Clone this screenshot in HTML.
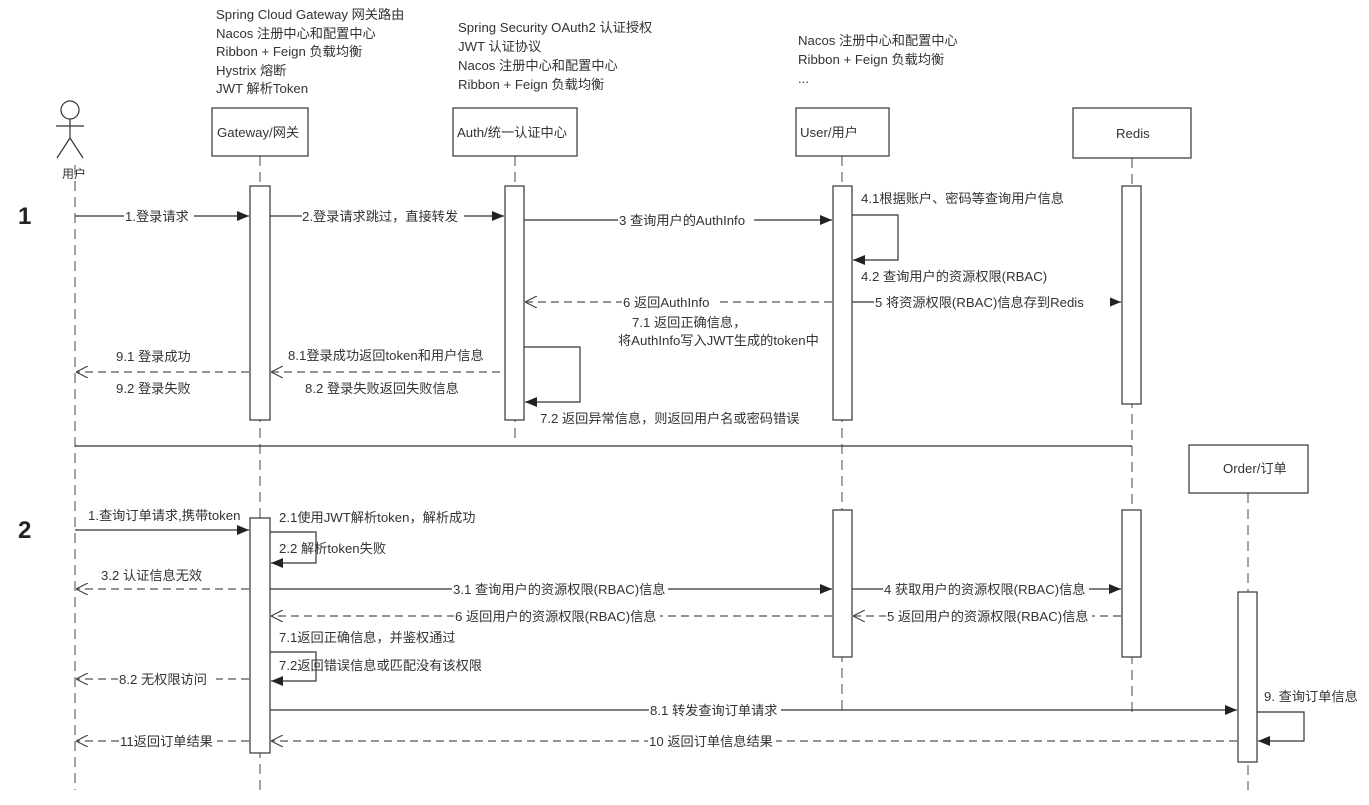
<!DOCTYPE html>
<html><head><meta charset="utf-8"><style>
body{margin:0;background:#fff}
svg{display:block}
text{font-family:"Liberation Sans","Noto Sans CJK SC",sans-serif;font-size:13.2px;fill:#333}
.l{stroke:#333;stroke-width:1.2;fill:none}
.d{stroke:#555;stroke-width:1.2;fill:none;stroke-dasharray:8 5}
.ll{stroke:#666;stroke-width:1.2;stroke-dasharray:10 6;fill:none}
.b{fill:#fff;stroke:#333;stroke-width:1.2}
.bg{fill:#fff}
</style></head><body>
<svg width="1369" height="805" viewBox="0 0 1369 805" xmlns="http://www.w3.org/2000/svg">
<defs>
<marker id="f" markerWidth="12" markerHeight="10" refX="12" refY="5" orient="auto" markerUnits="userSpaceOnUse"><path d="M0,0 L12,5 L0,10z" fill="#222"/></marker>
<marker id="o" markerWidth="12" markerHeight="12" refX="12" refY="6" orient="auto" markerUnits="userSpaceOnUse"><path d="M0,0 L12,6 L0,12" fill="none" stroke="#444" stroke-width="1.2"/></marker>
</defs>
<path class="ll" d="M75 165V790M260 156V795M515 156V442M842 156V712M1132 158V712M1248 493V790"/>
<text x="216" y="19">Spring Cloud Gateway 网关路由</text>
<text x="216" y="38">Nacos 注册中心和配置中心</text>
<text x="216" y="56">Ribbon + Feign 负载均衡</text>
<text x="216" y="75">Hystrix 熔断</text>
<text x="216" y="93">JWT 解析Token</text>
<text x="458" y="32">Spring Security OAuth2 认证授权</text>
<text x="458" y="51">JWT 认证协议</text>
<text x="458" y="70">Nacos 注册中心和配置中心</text>
<text x="458" y="89">Ribbon + Feign 负载均衡</text>
<text x="798" y="45">Nacos 注册中心和配置中心</text>
<text x="798" y="64">Ribbon + Feign 负载均衡</text>
<text x="798" y="83">...</text>
<circle cx="70" cy="110" r="9" class="l"/>
<path class="l" d="M70 119V138M56 126H84M70 138L57 158M70 138L83 158"/>
<text x="62" y="178" style="font-size:12px">用户</text>
<rect class="b" x="212" y="108" width="96" height="48"/><text x="217" y="137">Gateway/网关</text>
<rect class="b" x="453" y="108" width="124" height="48"/><text x="457" y="137">Auth/统一认证中心</text>
<rect class="b" x="796" y="108" width="93" height="48"/><text x="800" y="137">User/用户</text>
<rect class="b" x="1073" y="108" width="118" height="50"/><text x="1116" y="138">Redis</text>
<rect class="b" x="1189" y="445" width="119" height="48"/><text x="1223" y="473">Order/订单</text>
<rect class="b" x="250" y="186" width="20" height="234"/>
<rect class="b" x="505" y="186" width="19" height="234"/>
<rect class="b" x="833" y="186" width="19" height="234"/>
<rect class="b" x="1122" y="186" width="19" height="218"/>
<rect class="b" x="250" y="518" width="20" height="235"/>
<rect class="b" x="833" y="510" width="19" height="147"/>
<rect class="b" x="1122" y="510" width="19" height="147"/>
<rect class="b" x="1238" y="592" width="19" height="170"/>
<path class="l" d="M75 446H1132" stroke="#444"/>
<text x="18" y="224" style="font-size:24px;font-weight:bold;fill:#222">1</text>
<text x="18" y="538" style="font-size:24px;font-weight:bold;fill:#222">2</text>
<path class="l" d="M75 216H249" marker-end="url(#f)"/><rect class="bg" x="124" y="208" width="70" height="14"/><text x="125" y="221">1.登录请求</text>
<path class="l" d="M270 216H504" marker-end="url(#f)"/><rect class="bg" x="302" y="208" width="162" height="14"/><text x="302" y="221">2.登录请求跳过，直接转发</text>
<path class="l" d="M524 220H832" marker-end="url(#f)"/><rect class="bg" x="618" y="212" width="136" height="14"/><text x="619" y="225">3 查询用户的AuthInfo</text>
<path class="l" d="M852 215H898V260H853" marker-end="url(#f)"/>
<text x="861" y="203">4.1根据账户、密码等查询用户信息</text>
<text x="861" y="281">4.2 查询用户的资源权限(RBAC)</text>
<path class="d" d="M832 302H525" marker-end="url(#o)"/><rect class="bg" x="622" y="294" width="98" height="14"/><text x="623" y="307">6 返回AuthInfo</text>
<path class="l" d="M852 302H1121" marker-end="url(#f)"/><rect class="bg" x="874" y="294" width="236" height="14"/><text x="875" y="307">5 将资源权限(RBAC)信息存到Redis</text>
<text x="632" y="327">7.1 返回正确信息，</text>
<text x="618" y="345">将AuthInfo写入JWT生成的token中</text>
<path class="l" d="M524 347H580V402H525" marker-end="url(#f)"/>
<text x="540" y="423">7.2 返回异常信息，则返回用户名或密码错误</text>
<path class="d" d="M500 372H271" marker-end="url(#o)"/>
<text x="288" y="360">8.1登录成功返回token和用户信息</text>
<text x="305" y="393">8.2 登录失败返回失败信息</text>
<path class="d" d="M249 372H76" marker-end="url(#o)"/>
<text x="116" y="361">9.1 登录成功</text>
<text x="116" y="393">9.2 登录失败</text>
<path class="l" d="M75 530H249" marker-end="url(#f)"/><text x="88" y="520">1.查询订单请求,携带token</text>
<path class="l" d="M270 532H316V563H271" marker-end="url(#f)"/>
<text x="279" y="522">2.1使用JWT解析token，解析成功</text>
<text x="279" y="553">2.2 解析token失败</text>
<path class="d" d="M249 589H76" marker-end="url(#o)"/><text x="101" y="580">3.2 认证信息无效</text>
<path class="l" d="M270 589H832" marker-end="url(#f)"/><rect class="bg" x="452" y="581" width="216" height="14"/><text x="453" y="594">3.1 查询用户的资源权限(RBAC)信息</text>
<path class="l" d="M852 589H1121" marker-end="url(#f)"/><rect class="bg" x="883" y="581" width="206" height="14"/><text x="884" y="594">4 获取用户的资源权限(RBAC)信息</text>
<path class="d" d="M832 616H271" marker-end="url(#o)"/><rect class="bg" x="454" y="608" width="206" height="14"/><text x="455" y="621">6 返回用户的资源权限(RBAC)信息</text>
<path class="d" d="M1121 616H853" marker-end="url(#o)"/><rect class="bg" x="886" y="608" width="206" height="14"/><text x="887" y="621">5 返回用户的资源权限(RBAC)信息</text>
<text x="279" y="642">7.1返回正确信息，并鉴权通过</text>
<path class="l" d="M270 652H316V681H271" marker-end="url(#f)"/>
<text x="279" y="670">7.2返回错误信息或匹配没有该权限</text>
<path class="d" d="M249 679H76" marker-end="url(#o)"/><rect class="bg" x="118" y="671" width="98" height="14"/><text x="119" y="684">8.2 无权限访问</text>
<path class="l" d="M270 710H1237" marker-end="url(#f)"/><rect class="bg" x="649" y="702" width="132" height="14"/><text x="650" y="715">8.1 转发查询订单请求</text>
<path class="l" d="M1257 712H1304V741H1258" marker-end="url(#f)"/><text x="1264" y="701">9. 查询订单信息</text>
<path class="d" d="M1237 741H271" marker-end="url(#o)"/><rect class="bg" x="648" y="733" width="128" height="14"/><text x="649" y="746">10 返回订单信息结果</text>
<path class="d" d="M249 741H76" marker-end="url(#o)"/><rect class="bg" x="119" y="733" width="98" height="14"/><text x="120" y="746">11返回订单结果</text>
</svg>
</body></html>
